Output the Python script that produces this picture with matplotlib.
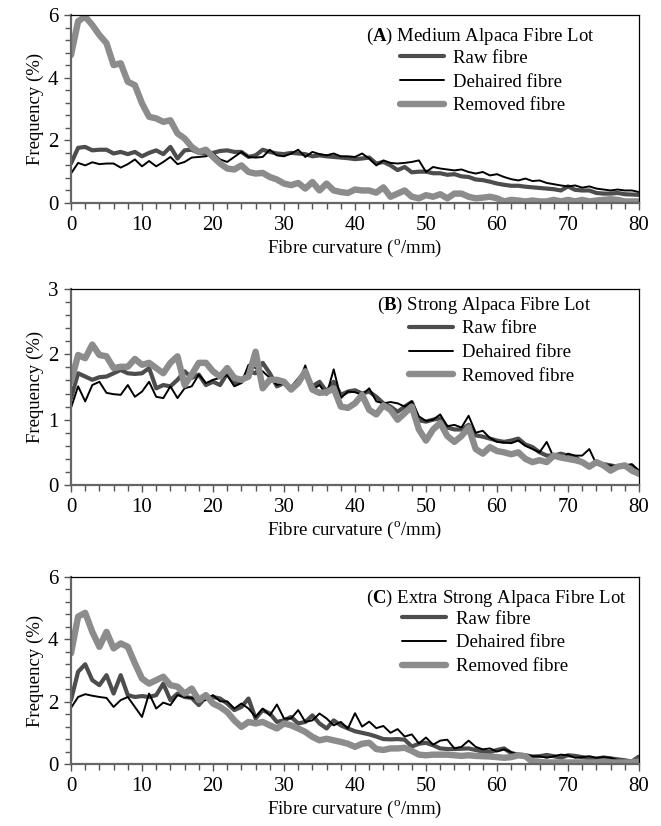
import numpy as np
import matplotlib
matplotlib.use("Agg")
import matplotlib.pyplot as plt
from matplotlib.ticker import MultipleLocator

plt.rcParams['font.family'] = ['Liberation Serif', 'DejaVu Serif']
plt.rcParams['mathtext.fontset'] = 'custom'
plt.rcParams['mathtext.rm'] = 'Liberation Serif'
plt.rcParams['mathtext.bf'] = 'Liberation Serif:bold'

# fibre curvature (deg/mm)
curvature = list(range(81))

# (A) Medium lot
medium_raw = [1.26, 1.76, 1.79, 1.68, 1.7, 1.7, 1.58, 1.63, 1.56, 1.63,
              1.49, 1.6, 1.68, 1.56, 1.79, 1.42, 1.68, 1.7, 1.6, 1.58,
              1.6, 1.66, 1.68, 1.63, 1.63, 1.47, 1.52, 1.7, 1.63, 1.58,
              1.56, 1.6, 1.58, 1.56, 1.49, 1.52, 1.49, 1.47, 1.45, 1.43,
              1.4, 1.42, 1.45, 1.26, 1.31, 1.2, 1.05, 1.15, 0.98, 1.0,
              1.0, 0.95, 0.95, 0.9, 0.92, 0.85, 0.83, 0.75, 0.73, 0.68,
              0.62, 0.58, 0.55, 0.55, 0.52, 0.5, 0.48, 0.46, 0.44, 0.4,
              0.53, 0.42, 0.4, 0.4, 0.32, 0.3, 0.3, 0.32, 0.28, 0.27, 0.26]
medium_dehaired = [0.94, 1.28, 1.2, 1.3, 1.24, 1.26, 1.26, 1.13, 1.24, 1.39,
                   1.17, 1.34, 1.17, 1.31, 1.47, 1.24, 1.31, 1.45, 1.47, 1.49,
                   1.58, 1.39, 1.31, 1.47, 1.63, 1.47, 1.45, 1.47, 1.7, 1.52,
                   1.49, 1.58, 1.7, 1.47, 1.63, 1.56, 1.52, 1.58, 1.49, 1.49,
                   1.47, 1.58, 1.42, 1.2, 1.36, 1.28, 1.26, 1.28, 1.31, 1.36,
                   0.99, 1.15, 1.1, 1.07, 1.04, 1.07, 0.99, 0.94, 0.99, 0.88,
                   0.92, 0.83, 0.76, 0.72, 0.78, 0.7, 0.72, 0.64, 0.6, 0.56,
                   0.53, 0.56, 0.49, 0.53, 0.46, 0.43, 0.4, 0.43, 0.4, 0.4, 0.35]
medium_removed = [4.72, 5.8, 5.95, 5.68, 5.36, 5.1, 4.4, 4.46, 3.87, 3.76,
                  3.18, 2.75, 2.7, 2.59, 2.64, 2.22, 2.06, 1.79, 1.63, 1.7,
                  1.47, 1.26, 1.1, 1.07, 1.2, 0.99, 0.94, 0.96, 0.83, 0.75,
                  0.62, 0.57, 0.64, 0.46, 0.67, 0.4, 0.62, 0.4, 0.35, 0.32,
                  0.43, 0.4, 0.4, 0.33, 0.5, 0.2, 0.3, 0.4, 0.2, 0.15,
                  0.25, 0.2, 0.28, 0.15, 0.3, 0.3, 0.2, 0.15, 0.17, 0.2,
                  0.15, 0.05, 0.1, 0.08, 0.05, 0.08, 0.05, 0.05, 0.1, 0.05,
                  0.1, 0.05, 0.1, 0.05, 0.08, 0.1, 0.12, 0.1, 0.05, 0.05, 0.05]

# (B) Strong lot
strong_raw = [1.33, 1.71, 1.66, 1.61, 1.65, 1.66, 1.71, 1.76, 1.71, 1.7,
              1.71, 1.79, 1.48, 1.53, 1.51, 1.61, 1.74, 1.64, 1.69, 1.53,
              1.58, 1.53, 1.71, 1.56, 1.58, 1.74, 1.71, 1.87, 1.71, 1.51,
              1.56, 1.48, 1.61, 1.74, 1.51, 1.58, 1.43, 1.58, 1.38, 1.43,
              1.45, 1.4, 1.43, 1.35, 1.25, 1.2, 1.12, 1.2, 1.27, 0.99,
              0.97, 1.0, 1.02, 0.88, 0.85, 0.85, 0.92, 0.76, 0.74, 0.71,
              0.68, 0.66, 0.68, 0.71, 0.62, 0.58, 0.5, 0.45, 0.45, 0.48,
              0.45, 0.43, 0.35, 0.3, 0.33, 0.32, 0.3, 0.28, 0.28, 0.28, 0.18]
strong_dehaired = [1.18, 1.51, 1.28, 1.53, 1.58, 1.41, 1.39, 1.38, 1.53, 1.35,
                   1.43, 1.58, 1.35, 1.33, 1.51, 1.33, 1.48, 1.51, 1.69, 1.56,
                   1.61, 1.64, 1.68, 1.51, 1.56, 1.84, 1.79, 1.74, 1.64, 1.53,
                   1.56, 1.46, 1.56, 1.83, 1.46, 1.53, 1.38, 1.77, 1.33, 1.43,
                   1.42, 1.38, 1.48, 1.28, 1.25, 1.27, 1.25, 1.2, 1.28, 1.05,
                   0.98, 1.0, 1.08, 0.9, 0.92, 0.88, 1.06, 0.8, 0.83, 0.72,
                   0.66, 0.65, 0.64, 0.68, 0.6, 0.55, 0.5, 0.66, 0.42, 0.4,
                   0.48, 0.45, 0.45, 0.55, 0.32, 0.3, 0.3, 0.28, 0.3, 0.32, 0.22]
strong_removed = [1.58, 1.99, 1.94, 2.15, 1.99, 1.97, 1.79, 1.81, 1.81, 1.93,
                  1.84, 1.87, 1.79, 1.71, 1.87, 1.97, 1.53, 1.69, 1.87, 1.87,
                  1.74, 1.66, 1.79, 1.64, 1.61, 1.66, 2.04, 1.48, 1.61, 1.61,
                  1.58, 1.46, 1.56, 1.74, 1.46, 1.41, 1.42, 1.48, 1.2, 1.18,
                  1.25, 1.38, 1.15, 1.08, 1.22, 1.15, 1.0, 1.1, 1.2, 0.85,
                  0.68, 0.85, 0.95, 0.75, 0.66, 0.75, 0.88, 0.55, 0.48, 0.58,
                  0.52, 0.5, 0.47, 0.5, 0.4, 0.35, 0.38, 0.35, 0.45, 0.42,
                  0.4, 0.38, 0.35, 0.28, 0.35, 0.3, 0.22, 0.28, 0.3, 0.22, 0.17]

# (C) Extra strong lot
xstrong_raw = [2.05, 2.96, 3.2, 2.69, 2.53, 2.85, 2.26, 2.85, 2.21, 2.15,
               2.18, 2.15, 2.21, 2.58, 2.05, 2.26, 2.15, 2.12, 1.89, 2.15,
               2.15, 2.1, 1.94, 1.73, 1.83, 2.1, 1.46, 1.73, 1.62, 1.35,
               1.4, 1.51, 1.3, 1.35, 1.56, 1.3, 1.14, 1.4, 1.24, 1.14,
               1.05, 1.0, 0.95, 0.88, 0.8, 0.79, 0.8, 0.78, 0.56, 0.65,
               0.68, 0.6, 0.5, 0.48, 0.48, 0.49, 0.5, 0.45, 0.4, 0.38,
               0.45, 0.5, 0.35, 0.3, 0.28, 0.24, 0.25, 0.29, 0.25, 0.2,
               0.28, 0.26, 0.22, 0.18, 0.17, 0.21, 0.18, 0.15, 0.12, 0.08, 0.24]
xstrong_dehaired = [1.8, 2.15, 2.24, 2.19, 2.15, 2.12, 1.83, 2.05, 2.15, 1.83,
                    1.51, 2.26, 1.78, 1.97, 1.89, 2.21, 2.15, 2.12, 2.05, 2.05,
                    2.21, 2.01, 2.01, 1.78, 1.94, 1.78, 1.51, 1.78, 1.56, 1.91,
                    1.46, 1.46, 1.73, 1.35, 1.4, 1.62, 1.46, 1.24, 1.35, 1.14,
                    1.63, 1.2, 1.36, 1.15, 1.22, 1.0, 1.12, 0.88, 0.95, 0.66,
                    0.85, 0.62, 0.75, 0.78, 0.5, 0.55, 0.75, 0.55, 0.47, 0.5,
                    0.4, 0.47, 0.38, 0.3, 0.3, 0.25, 0.25, 0.2, 0.25, 0.3,
                    0.28, 0.2, 0.22, 0.25, 0.2, 0.22, 0.2, 0.12, 0.1, 0.1, 0.12]
xstrong_removed = [3.55, 4.73, 4.85, 4.24, 3.76, 4.24, 3.71, 3.87, 3.76, 3.23,
                   2.74, 2.58, 2.69, 2.8, 2.53, 2.48, 2.26, 2.42, 2.05, 2.21,
                   1.94, 1.83, 1.67, 1.4, 1.19, 1.35, 1.3, 1.35, 1.24, 1.14,
                   1.3, 1.24, 1.14, 1.03, 0.87, 0.76, 0.81, 0.76, 0.71, 0.65,
                   0.55, 0.65, 0.68, 0.48, 0.45, 0.5, 0.5, 0.52, 0.42, 0.3,
                   0.28, 0.3, 0.3, 0.3, 0.28, 0.26, 0.28, 0.26, 0.25, 0.24,
                   0.22, 0.2, 0.22, 0.28, 0.25, 0.07, 0.06, 0.05, 0.05, 0.05,
                   0.05, 0.05, 0.05, 0.05, 0.05, 0.08, 0.05, 0.05, 0.05, 0.05, 0.08]

panel_titles = ['A', 'B', 'C']
panel_names = ['Medium Alpaca Fibre Lot', 'Strong Alpaca Fibre Lot',
               'Extra Strong Alpaca Fibre Lot']
series_labels = ['Raw fibre', 'Dehaired fibre', 'Removed fibre']
y_max = [6, 3, 6]
y_major = [2, 1, 2]

panels = [(medium_raw, medium_dehaired, medium_removed),
          (strong_raw, strong_dehaired, strong_removed),
          (xstrong_raw, xstrong_dehaired, xstrong_removed)]

# axes boxes in pixels (left, top, right, bottom)
W, H = 661, 826
boxes = [(71, 15, 639, 203), (71, 289, 639, 485), (71, 577, 639, 764)]
# legend: title x, title y, handle x, first row top (axes fractions)
leg_pos = [(0.519, 0.885, 0.579, 0.815),
           (0.539, 0.918, 0.595, 0.84),
           (0.519, 0.888, 0.583, 0.82)]

styles = [dict(color='#4d4d4d', lw=3.0),
          dict(color='black', lw=1.4),
          dict(color='#8c8c8c', lw=4.6)]

fig = plt.figure(figsize=(W / 100, H / 100), dpi=100)

for i, (series, box) in enumerate(zip(panels, boxes)):
    x0, y0, x1, y1 = box
    ax = fig.add_axes([x0 / W, 1 - y1 / H, (x1 - x0) / W, (y1 - y0) / H])
    lines = []
    for s, st, lab in zip(series, styles, series_labels):
        ln, = ax.plot(curvature, s, label=lab, solid_joinstyle='round',
                      solid_capstyle='round', **st)
        lines.append(ln)

    ax.set_xlim(0, 80)
    ax.set_ylim(0, y_max[i])
    ax.xaxis.set_major_locator(MultipleLocator(10))
    ax.xaxis.set_minor_locator(MultipleLocator(2))
    ax.yaxis.set_major_locator(MultipleLocator(y_major[i]))
    ax.yaxis.set_minor_locator(MultipleLocator(y_major[i] / 5))
    ax.tick_params(which='both', direction='out', color='#555555', width=1.0,
                   labelsize=15)
    ax.tick_params(axis='x', pad=4.7)
    ax.tick_params(axis='y', pad=4)
    ax.tick_params(which='major', length=5)
    ax.tick_params(which='minor', length=4)
    for side in ['left', 'bottom']:
        ax.spines[side].set_color('#666666')
        ax.spines[side].set_linewidth(1.6)
    for side in ['top', 'right']:
        ax.spines[side].set_color('black')
        ax.spines[side].set_linewidth(0.9)

    ax.set_xlabel(r'Fibre curvature ($^{\rm o}$/mm)', fontsize=13.5, labelpad=2)
    ax.set_ylabel('Frequency (%)', fontsize=13.5, labelpad=3)

    tx, ty, hx, hy = leg_pos[i]
    ax.text(tx, ty, r'($\mathbf{%s}$) %s' % (panel_titles[i], panel_names[i]),
            transform=ax.transAxes, fontsize=13.5, va='center', ha='left')
    ax.legend(handles=lines, loc='upper left', bbox_to_anchor=(hx, hy),
              frameon=False, fontsize=13.5, borderpad=0, borderaxespad=0,
              handlelength=2.35, handletextpad=0.5, labelspacing=0.35)

fig.savefig('out.png', dpi=100)
